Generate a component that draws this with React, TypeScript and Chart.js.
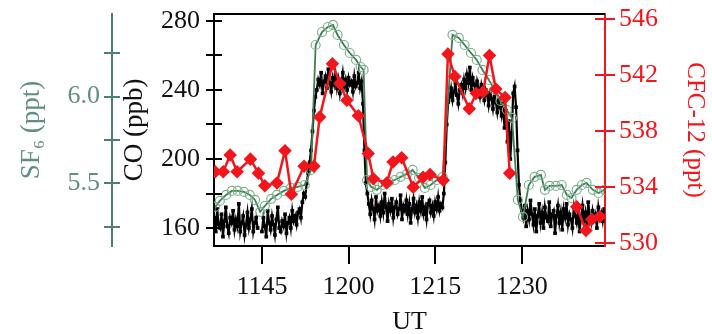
import React, { useEffect, useRef } from "react";
import { Chart, registerables } from "chart.js";
Chart.register(...registerables);

// ---- DATA ----
// CO (ppb): fast samples, first sample time (minutes of day) and sampling interval
const coStartMinute = 696.75;
const coStepMinutes = 0.25;
const coValues: (number | null)[] = [
  166, 158, 171, 162, 160, 168, 155, 164, 172, 161, 157, 166, 163, 170, 159, 165,
  161, 174, 158, 163, 167, 156, 162, 169, 160, 165, 171, 158, 163, 166, 160,
  null, null,
  158, 166, 161, 155, 170, 163, 159, 167, 162, 156, 165, 172, 160, 158, 164, 161,
  168, 157, 163, 166, 160, 170, 164, 167, 162, 169,
  171, 166, 175, 180, 178, 186, 192, 198,
  205, 216, 228, 236,
  240, 246, 243, 250, 238, 245, 248, 241, 252, 244, 239, 247, 243, 249, 241, 246,
  238, 244, 250, 242, 246, 240, 247, 243, 245, 239, 248, 242, 244, 250, 241, 245,
  232, 205, 186,
  180, 174, 168, 176, 171, 165, 178, 170, 173, 167, 175, 169, 180, 172, 164, 174,
  170, 177, 166, 172, 175, 168, 171, 179, 165, 173, 170, 176, 168, 174, 163, 171,
  177, 169, 173, 166, 175, 170, 178, 168, 172, 165, 174, 176, 169, 173, 167, 175,
  171, 178, 170, 174, 172,
  180, 198, 220, 233,
  236, 241, 234, 239, 244, 237, 232, 240, 243, 238, 246, 241, 249, 244, 253, 240,
  247, 243, 238, 245, 241, 236, 243, 239, 234, 240, 237, 231, 238, 235, 229, 236,
  233, 227, 234, 230,
  225, 232, 218, 228, 210, 222, 200, 215, 238, 242, 230,
  205, 185, 176, 170,
  166, 173, 161, 170, 165, 176, 168, 162, 171, 158, 167, 174, 163, 169, 160, 172,
  166, 164, 175, 161, 168, 170, 157, 167, 173, 163, 169, 159, 171, 166, 174, 162,
  168, 165, 160, 172, 167, 163, 170, 158, 166, 173, 164, 169, 161, 175, 167, 163,
  170, 165, 168, 160, 172, 166, 169, 164, 171,
];

// SF6 (ppt)
const sf6Times = [
  696.9, 697.7, 698.8, 699.8, 700.8, 701.9, 702.9, 703.8, 704.7, 705.5, 706.6, 707.6, 708.8, 710.0, 711.2, 712.4,
  713.5, 714.3, 715.4, 716.4, 717.3, 718.1, 719.2, 720.2, 721.3, 722.1, 722.6,
  723.2, 723.9, 724.9, 725.9, 727.0, 728.0, 729.0, 730.1, 731.1, 732.2, 733.2, 734.2, 735.3, 736.3,
  738.0, 739.1, 740.1, 741.2, 742.2, 743.2, 744.3, 745.3, 746.3, 747.4, 748.3,
  749.3, 750.2, 751.2, 752.2, 753.3, 754.0, 754.8, 755.9, 756.9, 757.8, 758.6, 759.5, 760.4, 761.2, 762.3, 763.3, 764.3,
];
const sf6Values = [
  5.364, 5.398, 5.433, 5.456, 5.456, 5.45, 5.433, 5.404, 5.335, 5.369, 5.41, 5.433, 5.456, 5.473, 5.479, 5.49,
  5.577, 6.298, 6.373, 6.402, 6.414, 6.356, 6.298, 6.252, 6.212, 6.171, 6.154,
  5.519, 5.479, 5.462, 5.49, 5.508, 5.519, 5.537, 5.554, 5.577, 5.531, 5.473, 5.49, 5.519, 5.537,
  6.356, 6.339, 6.298, 6.252, 6.212, 6.154, 6.096, 6.039, 5.975, 5.923, 5.877,
  5.404, 5.306, 5.49, 5.537, 5.548, 5.462, 5.485, 5.485, 5.49, 5.433, 5.415, 5.462, 5.49, 5.502, 5.462, 5.444, 5.462,
];

// CFC-12 (ppt)
const cfcTimes = [
  696.9, 698.3, 699.5, 700.7, 703.0, 704.4, 705.5, 707.6, 709.0, 710.1, 712.3, 714.0, 715.0, 717.2, 718.5, 719.7,
  721.7, 723.4, 724.3, 726.6, 727.7, 729.2, 731.2, 732.9, 734.1, 736.4, 737.2, 738.4, 740.9, 742.1, 743.3, 744.4,
  745.5, 747.1, 747.9, 753.5, 759.5, 761.1, 762.1, 763.5,
];
const cfcValues: (number | null)[] = [
  535.1, 535.1, 536.3, 535.1, 536.0, 535.0, 534.1, 534.3, 536.6, 533.5, 535.5, 535.5, 539.0, 542.8, 541.4, 540.2,
  539.1, 536.4, 534.6, 534.3, 535.8, 536.1, 534.0, 534.7, 534.9, 534.5, 543.5, 541.9, 539.6, 540.7, 540.8, 543.4,
  541.0, 540.4, 535.0, null, 532.6, 530.9, 531.7, 531.9,
];

// Axes
const xMin = 696.7;
const xMax = 764.4;
const xTickValues = [705, 720, 735, 750];
const xTickLabels = ["1145", "1200", "1215", "1230"];
const coTickValues = [160, 180, 200, 220, 240, 260, 280];
const coTickLabels = ["160", "", "200", "", "240", "", "280"];
const sf6TickValues = [5.25, 5.5, 5.75, 6.0, 6.25];
const sf6TickLabels = ["", "5.5", "", "6.0", ""];
const cfcTickValues = [530, 534, 538, 542, 546];
const cfcTickLabels = ["530", "534", "538", "542", "546"];

// ---- STYLE ----
const FONT = "'Liberation Serif', 'DejaVu Serif', serif";
const GREEN_AXIS = "#4d806c";
const GREEN_TEXT = "#5f8f7d";
const GREEN_LINE = "#3f7d52";
const GREEN_PT = "#7fb28f";
const RED = "#f2161c";

const setTicks = (vals: number[]) => (scale: any) => {
  scale.ticks = vals.map((v) => ({ value: v }));
};
const noPad = (s: any) => {
  s.paddingTop = 0;
  s.paddingBottom = 0;
  s.paddingLeft = 0;
  s.paddingRight = 0;
};

const axisDecor = {
  id: "axisDecor",
  afterDatasetsDraw(chart: any) {
    const { ctx, chartArea: a, scales } = chart;
    ctx.save();
    ctx.lineWidth = 2;
    ctx.strokeStyle = "#000";
    ctx.beginPath();
    ctx.moveTo(a.left - 1, a.top);
    ctx.lineTo(a.right, a.top);
    ctx.stroke();
    const crossY = (scale: any, x: number, out: number, inn: number, color: string, dir: number) => {
      ctx.strokeStyle = color;
      ctx.beginPath();
      scale.ticks.forEach((t: any) => {
        const y = Math.round(scale.getPixelForValue(t.value));
        ctx.moveTo(x - dir * out, y);
        ctx.lineTo(x + dir * inn, y);
      });
      ctx.stroke();
    };
    crossY(scales.yCO, scales.yCO.right, 8, 8, "#000", 1);
    crossY(scales.ySF6, scales.ySF6.right, 8, 8, GREEN_AXIS, 1);
    crossY(scales.yCFC, scales.yCFC.left, 10, 10, RED, -1);
    const xs = scales.x;
    ctx.strokeStyle = "#000";
    ctx.beginPath();
    xs.ticks.forEach((t: any) => {
      const x = Math.round(xs.getPixelForValue(t.value));
      ctx.moveTo(x, a.bottom);
      ctx.lineTo(x, a.bottom + 18);
    });
    ctx.stroke();
    ctx.restore();
  },
};

export default function App() {
  const ref = useRef<HTMLCanvasElement>(null);
  useEffect(() => {
    const coData = coValues.map((v, i) => ({ x: coStartMinute + i * coStepMinutes, y: v }));
    const sf6Data = sf6Times.map((t, i) => ({ x: t, y: sf6Values[i] }));
    const cfcData = cfcTimes.map((t, i) => ({ x: t, y: cfcValues[i] }));
    const chart = new Chart(ref.current as HTMLCanvasElement, {
      type: "line",
      data: {
        datasets: [
          {
            label: "CFC-12",
            data: cfcData as any,
            yAxisID: "yCFC",
            borderColor: RED,
            backgroundColor: RED,
            borderWidth: 2.5,
            pointStyle: "rectRot",
            pointRadius: 5,
            pointBackgroundColor: RED,
            pointBorderColor: RED,
            spanGaps: false,
          },
          {
            label: "SF6",
            data: sf6Data as any,
            yAxisID: "ySF6",
            borderColor: GREEN_LINE,
            borderWidth: 1.8,
            pointStyle: "circle",
            pointRadius: 4.5,
            pointBackgroundColor: "rgba(255,255,255,0)",
            pointBorderColor: GREEN_PT,
            pointBorderWidth: 1.2,
          },
          {
            label: "CO",
            data: coData as any,
            yAxisID: "yCO",
            borderColor: "#000",
            borderWidth: 2.2,
            pointStyle: "rect",
            pointRadius: 2.6,
            pointBackgroundColor: "#000",
            pointBorderColor: "#000",
            pointBorderWidth: 0,
            spanGaps: false,
          },
        ],
      },
      options: {
        animation: false,
        responsive: false,
        devicePixelRatio: 1,
        layout: { padding: { top: 14, left: 0, right: 0, bottom: 0 } },
        plugins: { legend: { display: false }, tooltip: { enabled: false } },
        elements: { line: { tension: 0 } },
        scales: {
          x: {
            type: "linear",
            min: xMin,
            max: xMax,
            afterBuildTicks: setTicks(xTickValues),
            afterFit: (s: any) => { s.height = 88; noPad(s); },
            grid: { display: false, drawTicks: false },
            border: { display: true, color: "#000", width: 2 },
            ticks: {
              color: "#111",
              font: { family: FONT, size: 26 },
              padding: 26,
              maxRotation: 0,
              autoSkip: false,
              callback: (_v: any, i: number) => xTickLabels[i],
            },
            title: {
              display: true,
              text: "UT",
              color: "#111",
              font: { family: FONT, size: 26, lineHeight: 1 },
              padding: { top: 0, bottom: -1 },
            },
          },
          ySF6: {
            type: "linear",
            position: "left",
            weight: 2,
            min: 5.138,
            max: 6.477,
            afterBuildTicks: setTicks(sf6TickValues),
            afterFit: (s: any) => { s.width = 112; noPad(s); },
            grid: { display: false, drawTicks: false },
            border: { display: true, color: GREEN_AXIS, width: 2 },
            ticks: {
              color: GREEN_TEXT,
              font: { family: FONT, size: 26 },
              padding: 12,
              autoSkip: false,
              callback: (_v: any, i: number) => sf6TickLabels[i],
            },
            title: {
              display: true,
              text: "SF\u2086 (ppt)",
              color: GREEN_TEXT,
              font: { family: FONT, size: 27, lineHeight: 1 },
              padding: { top: 18, bottom: 0 },
            },
          },
          yCO: {
            type: "linear",
            position: "left",
            weight: 1,
            min: 149.6,
            max: 284,
            afterBuildTicks: setTicks(coTickValues),
            afterFit: (s: any) => { s.width = 102; noPad(s); },
            grid: { display: false, drawTicks: false },
            border: { display: true, color: "#000", width: 2 },
            ticks: {
              color: "#111",
              font: { family: FONT, size: 26 },
              padding: 14,
              autoSkip: false,
              callback: (_v: any, i: number) => coTickLabels[i],
            },
            title: {
              display: true,
              text: "CO (ppb)",
              color: "#111",
              font: { family: FONT, size: 27, lineHeight: 1 },
              padding: { top: 9, bottom: 0 },
            },
          },
          yCFC: {
            type: "linear",
            position: "right",
            min: 529.8,
            max: 546.36,
            afterBuildTicks: setTicks(cfcTickValues),
            afterFit: (s: any) => { s.width = 107; noPad(s); },
            grid: { display: false, drawTicks: false },
            border: { display: true, color: RED, width: 2 },
            ticks: {
              color: RED,
              font: { family: FONT, size: 26 },
              padding: 14,
              autoSkip: false,
              callback: (_v: any, i: number) => cfcTickLabels[i],
            },
            title: {
              display: true,
              text: "CFC-12 (ppt)",
              color: RED,
              font: { family: FONT, size: 25, lineHeight: 1 },
              padding: { top: 5, bottom: 0 },
            },
          },
        },
      },
      plugins: [axisDecor],
    } as any);
    return () => chart.destroy();
  }, []);
  return (
    <div style={{ position: "fixed", left: 0, top: 0, width: 712, height: 334, background: "#fff" }}>
      <canvas ref={ref} width={712} height={334} style={{ width: 712, height: 334, display: "block" }} />
    </div>
  );
}
